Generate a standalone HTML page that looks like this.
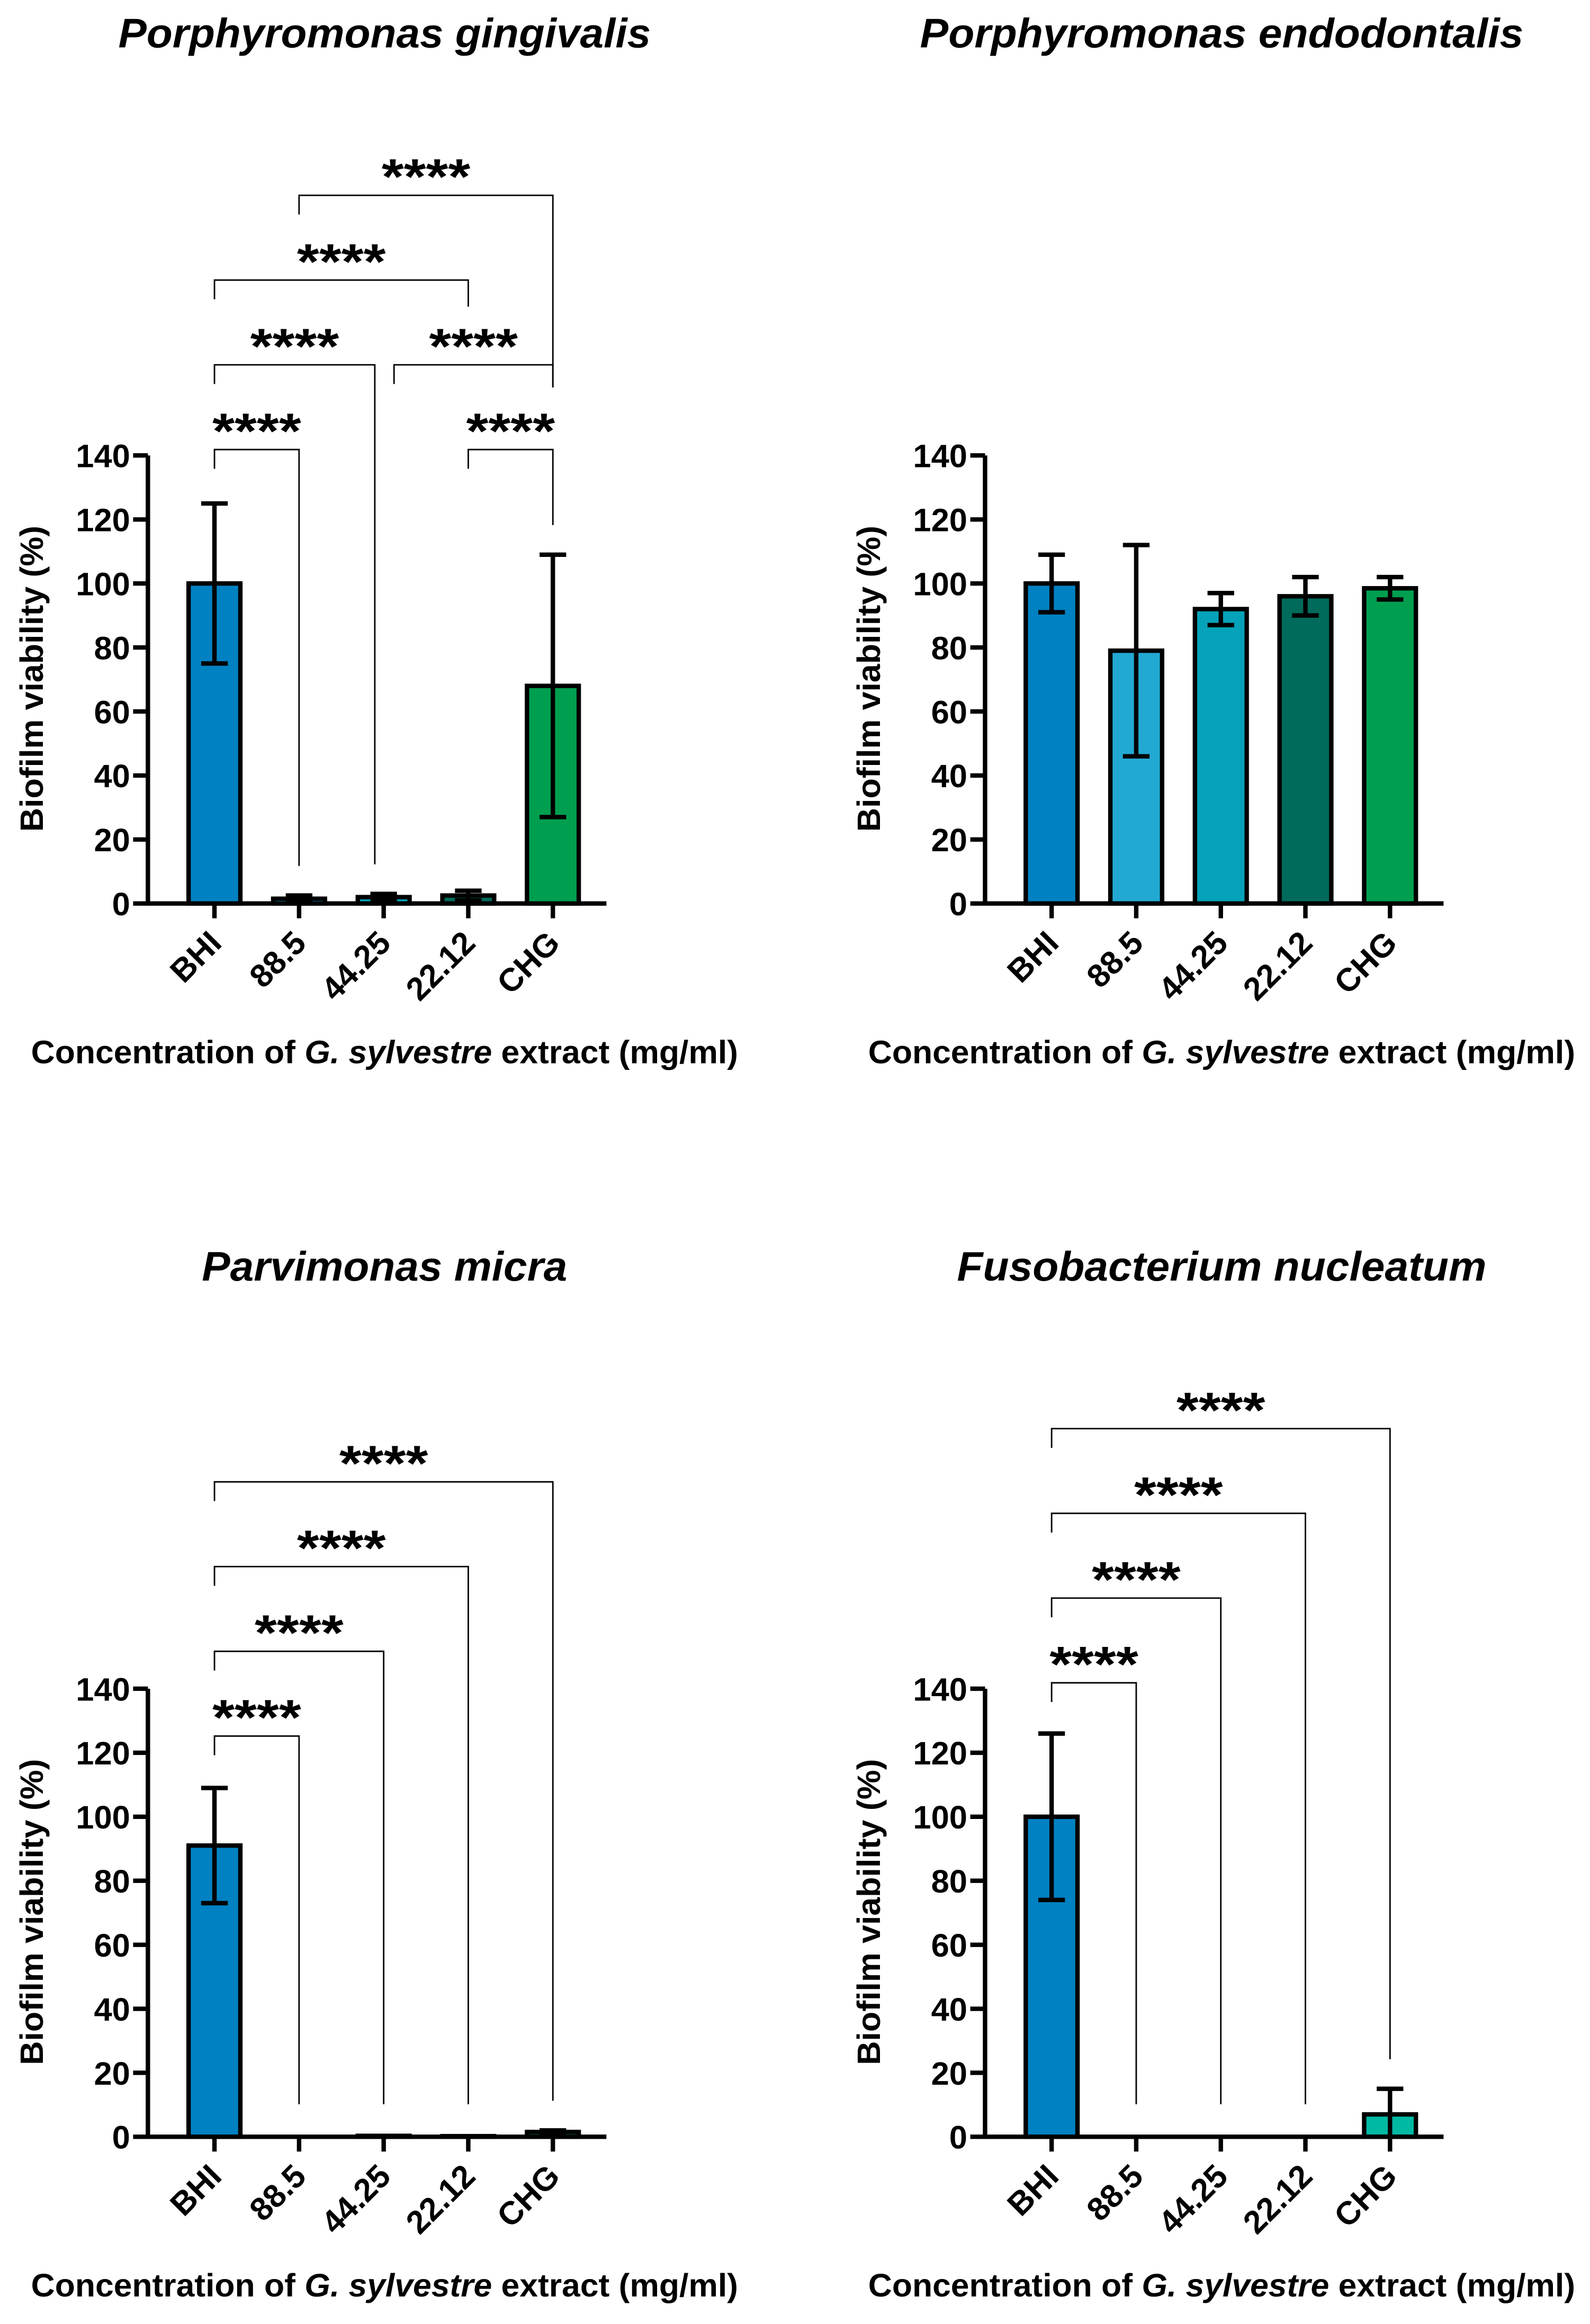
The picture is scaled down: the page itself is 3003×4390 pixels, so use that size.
<!DOCTYPE html>
<html><head><meta charset="utf-8"><style>
html,body{margin:0;padding:0;background:#fff}
svg{display:block}
text{font-family:"Liberation Sans",Arial,sans-serif;font-weight:bold;fill:#000}
</style></head><body>
<svg id="chart" width="3003" height="4390" viewBox="0 0 1075 1571.6" preserveAspectRatio="none" xmlns="http://www.w3.org/2000/svg"></svg>
<script>
const categories = ["BHI","88.5","44.25","22.12","CHG"];
const yTicks = [0,20,40,60,80,100,120,140];
const titles = ["Porphyromonas gingivalis","Porphyromonas endodontalis","Parvimonas micra","Fusobacterium nucleatum"];
const meansA = [100,1.5,2,2.5,68];
const errsA  = [25,1,1,1.5,41];
const meansB = [100,79,92,96,98.5];
const errsB  = [9,33,5,6,3.5];
const meansC = [91,0,0.3,0.2,1.5];
const errsC  = [18,0,0,0,0.5];
const meansD = [100,0,0,0,7];
const errsD  = [26,0,0,0,8];
const colorsMain = ["#0081c2","#22a9d3","#06a2b9","#006b5b","#009f4f"];
const colorsD = ["#0081c2","#22a9d3","#06a2b9","#006b5b","#00b9a3"];
// brackets: [fromIndex, toIndex, level]
const bracketsA = [[0,1,0],[0,2,1],[2,4,1],[0,3,2],[1,4,3],[3,4,0]];
const bracketsC = [[0,1,0],[0,2,1],[0,3,2],[0,4,3]];
const bracketsD = [[0,1,0],[0,2,1],[0,3,2],[0,4,3]];

const NS="http://www.w3.org/2000/svg";
const svg=document.getElementById('chart');
function mk(tag,attrs,parent){const e=document.createElementNS(NS,tag);for(const k in attrs)e.setAttribute(k,attrs[k]);(parent||svg).appendChild(e);return e;}

function panel(ox,oy,title,means,errs,colors,brackets,slug,titleLen,bOff){
  const g=mk('g',{});
  
  
  const axX=100+ox, y0=611+oy, yTop=308+oy;
  const y=v=>y0-(v/140)*(y0-yTop);
  const xc=i=>145+ox+i*57.2;
  const t=mk('text',{x:260+ox,y:32+oy,'text-anchor':'middle','font-size':28,'font-style':'italic',textLength:titleLen,lengthAdjust:'spacingAndGlyphs'},g);
  t.textContent=title;
  
  
  means.forEach((m,i)=>{
    const r=mk('rect',{x:xc(i)-17.5,y:y(m),width:35,height:Math.max(y0-y(m),0),fill:colors[i],stroke:'#000','stroke-width':3},g);
    
    
    if(errs[i]>0){
      const hi=y(m+errs[i]), lo=y(Math.max(m-errs[i],0));
      const e=mk('path',{d:`M${xc(i)},${hi}V${lo}M${xc(i)-9},${hi}H${xc(i)+9}M${xc(i)-9},${lo}H${xc(i)+9}`,stroke:'#000','stroke-width':3,fill:'none'},g);
      
      
    }
  });
  const ax=mk('path',{d:`M${axX},${yTop}V${y0}H${410+ox}`,stroke:'#000','stroke-width':3,fill:'none'},g);
  
  
  yTicks.forEach(v=>{
    mk('line',{x1:axX-10,x2:axX,y1:y(v),y2:y(v),stroke:'#000','stroke-width':3},g);
    const l=mk('text',{x:axX-12,y:y(v)+8,'text-anchor':'end','font-size':22},g);
    l.textContent=v;
    
    
  });
  categories.forEach((c,i)=>{
    mk('line',{x1:xc(i),x2:xc(i),y1:y0,y2:y0+10,stroke:'#000','stroke-width':3},g);
    const l=mk('text',{x:xc(i)+6,y:y0+28,'text-anchor':'end','font-size':22,transform:`rotate(-45 ${xc(i)+6} ${y0+28})`},g);
    l.textContent=c;
    
    
  });
  const yl=mk('text',{x:0,y:0,'text-anchor':'middle','font-size':22,textLength:207,lengthAdjust:'spacingAndGlyphs',transform:`translate(${29+ox},${yTop+151}) rotate(-90)`},g);
  yl.textContent='Biofilm viability (%)';
  
  
  const xl=mk('text',{x:260+ox,y:719+oy,'text-anchor':'middle','font-size':22,textLength:478,lengthAdjust:'spacingAndGlyphs'},g);
  xl.innerHTML='Concentration of <tspan font-style="italic">G. sylvestre</tspan> extract (mg/ml)';
  
  
  const tops=brackets.map(b=>yTop-4+bOff-b[2]*57.3);
  brackets.forEach(([a,b,lev],k)=>{
    const top=tops[k];
    let xa=xc(a), xb=xc(b);
    if(brackets===bracketsA){ if(a===0&&b===2) xb-=6; if(a===2&&b===4) xa+=7; }
    const bot=v=>Math.min(y(v)-20, y0-22);
    const ya=Math.min(top+13, bot(means[a]+errs[a]));
    let yb=bot(means[b]+errs[b]);
    let shared=null, leftStart=false;
    brackets.forEach(([a2,b2,l2],j)=>{
      if(l2<lev && b2===b){ const lim=tops[j]-42; shared = shared===null?lim:Math.max(shared,lim); }
      if(l2<lev && a2===b) leftStart=true;
    });
    if(leftStart) yb=top+18;
    else if(shared!==null) yb=Math.min(yb,shared);
    const p=mk('path',{d:`M${xa},${Math.max(ya,top+12)}V${top}H${xb}V${yb}`,stroke:'#000','stroke-width':1,fill:'none'},g);
    
    
    const s=mk('text',{x:(xa+xb)/2,y:top-1,'text-anchor':'middle','font-size':34,textLength:60,lengthAdjust:'spacingAndGlyphs'},g);
    s.textContent='****';
    
    
  });
}
panel(0,0,titles[0],meansA,errsA,colorsMain,bracketsA,'p-gingivalis',360,0);
panel(566,0,titles[1],meansB,errsB,colorsMain,[],'p-endodontalis',408,0);
panel(0,834,titles[2],meansC,errsC,colorsMain,bracketsC,'p-micra',247,36);
panel(566,834,titles[3],meansD,errsD,colorsD,bracketsD,'f-nucleatum',358,0);
</script>
</body></html>
